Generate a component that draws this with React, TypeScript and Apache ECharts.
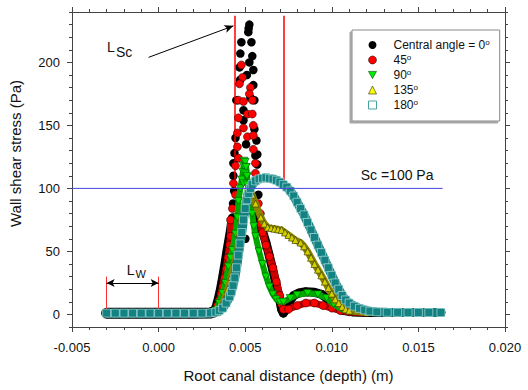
import React, { useEffect, useRef } from 'react';
import * as echarts from 'echarts';

const FONT = '"Liberation Sans", Arial, Helvetica, sans-serif';

// Tick labels
const xMajorTicks = [-0.005, 0, 0.005, 0.01, 0.015, 0.02];
const yMajorTicks = [0, 50, 100, 150, 200];

// Series names (legend)
const seriesNames = ['Central angle = 0°', '45°', '90°', '135°', '180°'];

// 0° : black circles
const black0Left: number[][] = [
  [-0.003, 1], [-0.002, 1], [-0.001, 1], [0, 1], [0.001, 1], [0.002, 1], [0.003, 1.2],
  [0.0032, 2], [0.0033, 3], [0.0034, 7], [0.0035, 12], [0.0036, 18], [0.0037, 25],
  [0.0038, 33], [0.0039, 41], [0.004, 50], [0.0041, 58], [0.0042, 66], [0.0043, 76],
];
const black0Cloud: number[][] = [
  [0.00524, 230], [0.0052, 227], [0.00518, 224], [0.00478, 216], [0.00536, 216],
  [0.00472, 207], [0.00541, 205], [0.00524, 200], [0.00467, 196], [0.00547, 194],
  [0.0051, 190], [0.0047, 186], [0.00547, 182], [0.0053, 172], [0.00553, 170],
  [0.00449, 170], [0.0049, 162], [0.0049, 154], [0.00553, 147], [0.00444, 140],
  [0.00565, 138], [0.00505, 135], [0.00438, 128], [0.0057, 127], [0.00559, 126],
  [0.00432, 120], [0.0057, 119], [0.00432, 110], [0.00575, 108], [0.00436, 98],
  [0.00576, 95], [0.0043, 88], [0.00578, 77], [0.0058, 67], [0.00501, 60],
];
const black0Right: number[][] = [
  [0.0058, 80], [0.0059, 72], [0.006, 66], [0.0062, 57], [0.0064, 46], [0.0066, 35],
  [0.0068, 23], [0.007, 11], [0.0071, 4], [0.0072, 1], [0.0074, 5], [0.0076, 11],
  [0.0078, 15], [0.0081, 17], [0.0085, 18], [0.009, 17.5], [0.0094, 16], [0.0097, 13],
  [0.01, 9], [0.0103, 5], [0.0107, 3], [0.0112, 2], [0.012, 1.5], [0.013, 1.5],
  [0.014, 1.5], [0.015, 1.5], [0.0163, 1.5],
];

// 45° : red circles
const red45Left: number[][] = [
  [-0.003, 1], [0, 1], [0.003, 1], [0.0032, 2], [0.0033, 4], [0.0034, 7], [0.0035, 11],
  [0.0036, 16], [0.0037, 22], [0.0038, 29], [0.0039, 36], [0.004, 45], [0.0041, 55],
  [0.00415, 62], [0.00415, 75],
];
const red45Cloud: number[][] = [
  [0.00478, 198], [0.00484, 188], [0.00467, 183], [0.0053, 180], [0.00524, 175],
  [0.00461, 170], [0.0049, 169], [0.00541, 170], [0.00461, 156], [0.00513, 159],
  [0.00541, 159], [0.0049, 148], [0.00547, 150], [0.00455, 144], [0.00513, 141],
  [0.00547, 142], [0.00455, 133], [0.00547, 131], [0.00461, 124], [0.00444, 118],
  [0.00559, 120], [0.00432, 104], [0.00559, 112], [0.00444, 95], [0.00426, 84],
  [0.00576, 88], [0.00588, 80],
];
const red45Right: number[][] = [
  [0.0059, 72], [0.006, 65], [0.0062, 55], [0.0064, 46], [0.0066, 37], [0.0068, 26],
  [0.007, 15], [0.0071, 8], [0.0072, 4], [0.0075, 4], [0.008, 7], [0.0085, 9],
  [0.009, 9], [0.0095, 7], [0.01, 5], [0.0105, 3], [0.011, 2], [0.012, 1.5], [0.0163, 1.5],
];

// 90° : green down-triangles
const green90Left: number[][] = [
  [-0.003, 1], [0, 1], [0.003, 1], [0.0033, 3], [0.0035, 9], [0.00369, 17], [0.00386, 25],
  [0.00403, 38], [0.00416, 45], [0.00426, 51], [0.00444, 64], [0.00455, 77], [0.00461, 90],
  [0.00472, 100], [0.0048, 107], [0.00487, 113], [0.0049, 118], [0.00492, 122],
];
const green90Peak: number[][] = [
  [0.005, 121], [0.00505, 117], [0.005, 112], [0.0051, 109], [0.0049, 104], [0.0051, 103],
];
const green90Right: number[][] = [
  [0.00505, 117], [0.0051, 110], [0.0052, 100], [0.0053, 90], [0.0054, 80], [0.0055, 70],
  [0.0056, 62], [0.0058, 50], [0.006, 40], [0.0062, 30], [0.0064, 22], [0.0066, 16],
  [0.0068, 12], [0.007, 10], [0.0072, 10], [0.0076, 13], [0.008, 15.5], [0.0086, 17],
  [0.0092, 16], [0.0097, 13], [0.0101, 8], [0.0106, 4], [0.011, 2.5], [0.012, 1.5], [0.0163, 1.5],
];

// 135° : yellow up-triangles
const yellow135: number[][] = [
  [-0.003, 1], [0, 1], [0.003, 1], [0.0034, 2], [0.0036, 6], [0.0038, 12], [0.004, 20],
  [0.0042, 30], [0.0044, 42], [0.00455, 51], [0.0047, 64], [0.00484, 77], [0.005, 88],
  [0.0051, 96], [0.0052, 100], [0.0053, 99], [0.0054, 95], [0.0056, 88], [0.0059, 77],
  [0.0061, 72], [0.0063, 69], [0.0065, 68.5], [0.0067, 68], [0.0069, 67.5], [0.0071, 67],
  [0.0073, 65], [0.0075, 63], [0.0077, 61], [0.0079, 59], [0.0082, 57], [0.0084, 54],
  [0.0086, 50], [0.0088, 45], [0.009, 40], [0.0092, 35.5], [0.0094, 31], [0.0096, 26],
  [0.0098, 21], [0.01, 16.5], [0.0102, 12], [0.0104, 9], [0.0106, 6], [0.0108, 4],
  [0.011, 3], [0.012, 1.5], [0.0163, 1.5],
];

// 180° : teal open squares
const teal180: number[][] = [
  [-0.003, 1], [-0.0025, 1], [-0.002, 1], [-0.0015, 1], [-0.001, 1], [-0.0005, 1], [0, 1],
  [0.0005, 1], [0.001, 1], [0.0015, 1], [0.002, 1], [0.0025, 1], [0.003, 1.2], [0.0033, 1.8],
  [0.0035, 3], [0.0037, 5], [0.0039, 9], [0.0041, 14], [0.0042, 18], [0.0043, 23],
  [0.0044, 29], [0.0045, 37], [0.0046, 47], [0.0047, 56], [0.0048, 65], [0.0049, 75],
  [0.005, 84], [0.0051, 91], [0.0052, 96], [0.0053, 100], [0.0054, 103], [0.0056, 106],
  [0.0058, 107.5], [0.006, 108], [0.0062, 108.5], [0.0064, 108], [0.0066, 107.5],
  [0.0068, 106.5], [0.007, 105], [0.0072, 103], [0.0074, 101], [0.0076, 98], [0.0078, 94],
  [0.008, 89], [0.0082, 84], [0.0084, 79], [0.0086, 73], [0.0088, 67], [0.009, 61],
  [0.0092, 55], [0.0094, 49], [0.0096, 43], [0.0098, 37], [0.01, 31], [0.0102, 25],
  [0.0104, 20], [0.0106, 15], [0.0108, 11.5], [0.011, 9], [0.0113, 6.5], [0.0116, 4.8],
  [0.0119, 3.5], [0.0122, 2.6], [0.0126, 2], [0.0132, 1.7], [0.0138, 1.6], [0.0144, 1.5],
  [0.015, 1.5], [0.0156, 1.5], [0.0163, 1.5],
];

// Threshold line Sc = 100 Pa
const scLine: number[][] = [[-0.005, 100], [0.0164, 100]];

function band(id: string, data: number[][], color: string, width: number, z: number) {
  return {
    id, name: id, type: 'line', data, symbol: 'none', silent: true, z,
    lineStyle: { color, width, cap: 'round', join: 'round' },
    xAxisIndex: 0, yAxisIndex: 0,
  };
}

const axisColor = '#444';

export default function App() {
  const ref = useRef<HTMLDivElement>(null);
  useEffect(() => {
    if (!ref.current) return;
    const chart = echarts.init(ref.current, undefined, { renderer: 'svg' });
    const downTri = 'path://M0,0L10,0L5,9Z';
    const option: any = {
      animation: false,
      textStyle: { fontFamily: FONT },
      grid: { left: 72, top: 12, width: 433, height: 315, outerBoundsMode: 'none' },
      legend: {
        orient: 'vertical', left: 352, top: 30,
        itemWidth: 8, itemHeight: 8, itemGap: 1,
        padding: [8, 10, 9, 16],
        backgroundColor: '#fff', borderColor: '#888', borderWidth: 1,
        shadowColor: 'rgba(0,0,0,0.35)', shadowOffsetX: -2, shadowOffsetY: 2, shadowBlur: 0,
        symbolRotate: 0,
        selectedMode: false,
        textStyle: {
          fontSize: 12, color: '#111', fontFamily: FONT, lineHeight: 14, padding: [0, 0, 0, 12],
          rich: { sup: { fontSize: 8, verticalAlign: 'top', color: '#111', fontFamily: FONT } },
        },
        formatter: (n: string) => n.replace('°', '{sup|o}'),
        data: [
          { name: seriesNames[0], icon: 'circle', itemStyle: { color: '#000' } },
          { name: seriesNames[1], icon: 'circle', itemStyle: { color: '#ff0000', borderColor: '#000', borderWidth: 0.5 } },
          { name: seriesNames[2], icon: downTri, itemStyle: { color: '#00ee00', borderColor: '#004400', borderWidth: 0.6 } },
          { name: seriesNames[3], icon: 'triangle', itemStyle: { color: '#ffff00', borderColor: '#222', borderWidth: 0.6 } },
          { name: seriesNames[4], icon: 'rect', itemStyle: { color: '#fff', borderColor: '#4aa3a3', borderWidth: 1 } },
        ],
      },
      xAxis: [
        {
          type: 'value', position: 'bottom', min: -0.005, max: 0.02, interval: 0.005,
          axisLine: { show: true, onZero: false, lineStyle: { color: axisColor } },
          axisTick: { show: true, length: 5, lineStyle: { color: axisColor } },
          minorTick: { show: true, splitNumber: 5, length: 3, lineStyle: { color: axisColor } },
          splitLine: { show: false },
          axisLabel: {
            fontSize: 13, color: '#111', margin: 14, fontFamily: FONT,
            formatter: (v: number) => (Math.abs(v) < 1e-9 ? '0.000' : v.toFixed(3)),
          },
          name: 'Root canal distance (depth) (m)', nameLocation: 'middle', nameGap: 41,
          nameTextStyle: { fontSize: 15, color: '#111', fontFamily: FONT },
        },
        {
          type: 'value', position: 'top', min: -0.005, max: 0.02, interval: 0.005,
          axisLine: { show: true, onZero: false, lineStyle: { color: axisColor } },
          axisTick: { show: true, length: 5, lineStyle: { color: axisColor } },
          minorTick: { show: true, splitNumber: 5, length: 3, lineStyle: { color: axisColor } },
          splitLine: { show: false }, axisLabel: { show: false },
        },
      ],
      yAxis: [
        {
          type: 'value', position: 'left', min: -10, max: 240,
          axisLine: { show: true, onZero: false, lineStyle: { color: axisColor } },
          axisTick: { show: true, length: 5, customValues: yMajorTicks, lineStyle: { color: axisColor } },
          axisLabel: { fontSize: 13, color: '#111', margin: 12, fontFamily: FONT, customValues: yMajorTicks },
          splitLine: { show: false },
          name: 'Wall shear stress (Pa)', nameLocation: 'middle', nameGap: 49,
          nameTextStyle: { fontSize: 15, color: '#111', fontFamily: FONT, padding: [0, 0, 0, 32] },
        },
        {
          type: 'value', position: 'left', min: -10, max: 240, interval: 10,
          axisLine: { show: false, onZero: false },
          axisTick: { show: true, length: 3, lineStyle: { color: axisColor } },
          axisLabel: { show: false }, splitLine: { show: false },
        },
        {
          type: 'value', position: 'right', min: -10, max: 240,
          axisLine: { show: true, onZero: false, lineStyle: { color: axisColor } },
          axisTick: { show: true, length: 5, customValues: yMajorTicks, lineStyle: { color: axisColor } },
          axisLabel: { show: false }, splitLine: { show: false },
        },
        {
          type: 'value', position: 'right', min: -10, max: 240, interval: 10,
          axisLine: { show: false, onZero: false },
          axisTick: { show: true, length: 3, lineStyle: { color: axisColor } },
          axisLabel: { show: false }, splitLine: { show: false },
        },
      ],
      series: [
        // 0°
        band('b0L', black0Left, '#000', 11, 2),
        band('b0R', black0Right, '#000', 9, 2),
        {
          name: seriesNames[0], type: 'scatter', z: 3, symbol: 'circle', symbolSize: 8.5,
          itemStyle: { color: '#000', opacity: 1 },
          data: [...black0Left, ...black0Cloud, ...black0Right],
        },
        // 45°
        band('b45L', red45Left, '#d00000', 7, 4),
        band('b45R', red45Right, '#d00000', 7, 4),
        {
          name: seriesNames[1], type: 'scatter', z: 5, symbol: 'circle', symbolSize: 8,
          itemStyle: { color: '#ff0000', borderColor: '#000', borderWidth: 0.5, opacity: 1 },
          data: [...red45Left, ...red45Cloud, ...red45Right],
        },
        // 90°
        band('b90L', green90Left, '#00a800', 6, 6),
        band('b90R', green90Right, '#00a800', 6, 6),
        {
          name: seriesNames[2], type: 'scatter', z: 7, symbol: downTri, symbolSize: [8, 7],
          itemStyle: { color: '#00e000', borderColor: '#004400', borderWidth: 0.5, opacity: 1 },
          data: [...green90Left, ...green90Peak, ...green90Right],
        },
        // 135°
        band('b135', yellow135, '#8a8400', 7, 8),
        {
          name: seriesNames[3], type: 'scatter', z: 9, symbol: 'triangle', symbolSize: 7,
          itemStyle: { color: '#d4d000', borderColor: '#333300', borderWidth: 0.6, opacity: 1 },
          data: yellow135,
        },
        // 180°
        band('b180', teal180, '#127e7e', 9, 10),
        {
          name: seriesNames[4], type: 'scatter', z: 11, symbol: 'rect', symbolSize: 8,
          itemStyle: { color: '#128282', borderColor: '#c4e8e8', borderWidth: 0.6, opacity: 1 },
          data: teal180,
        },
        // Annotations
        {
          id: 'sc', name: 'sc', type: 'line', data: scLine, symbol: 'none', z: 20, silent: true,
          lineStyle: { color: '#4646dc', width: 1 },
          markLine: {
            silent: true, symbol: 'none', symbolSize: 8, label: { show: false },
            lineStyle: { color: '#ff0000', width: 1.5, type: 'solid' },
            emphasis: { disabled: true },
            data: [
              [{ coord: [0.0044, 100] }, { coord: [0.0044, 237] }],
              [{ coord: [0.0072, 100] }, { coord: [0.0072, 237] }],
              [{ coord: [-0.003, 1], lineStyle: { width: 1, color: '#ff3030' } }, { coord: [-0.003, 30] }],
              [{ coord: [0, 1], lineStyle: { width: 1, color: '#ff3030' } }, { coord: [0, 30] }],
              [
                { coord: [-0.003, 25], symbol: 'arrow', symbolSize: [6, 8], lineStyle: { color: '#000', width: 1 } },
                { coord: [0, 25], symbol: 'arrow', symbolSize: [6, 8] },
              ],
              [
                { coord: [-0.00058, 204], symbol: 'none', lineStyle: { color: '#000', width: 1 } },
                { coord: [0.00432, 229], symbol: 'arrow', symbolSize: [6, 9] },
              ],
            ],
          },
          markPoint: {
            silent: true, symbol: 'circle', symbolSize: 0,
            label: { show: true, position: 'inside', color: '#111', fontSize: 14, fontFamily: FONT },
            data: [
              { coord: [-0.00276, 212], label: { formatter: 'L' } },
              { coord: [-0.00199, 208], label: { formatter: 'Sc' } },
              { coord: [-0.00161, 35], label: { formatter: 'L' } },
              { coord: [-0.00104, 32], label: { formatter: 'W', fontSize: 11 } },
              { coord: [0.01377, 111], label: { formatter: 'Sc =100 Pa' } },
            ],
          },
        },
      ],
    };
    chart.setOption(option);
    return () => chart.dispose();
  }, []);
  return <div ref={ref} style={{ position: 'fixed', left: 0, top: 0, width: 528, height: 390, background: '#fff' }} />;
}
